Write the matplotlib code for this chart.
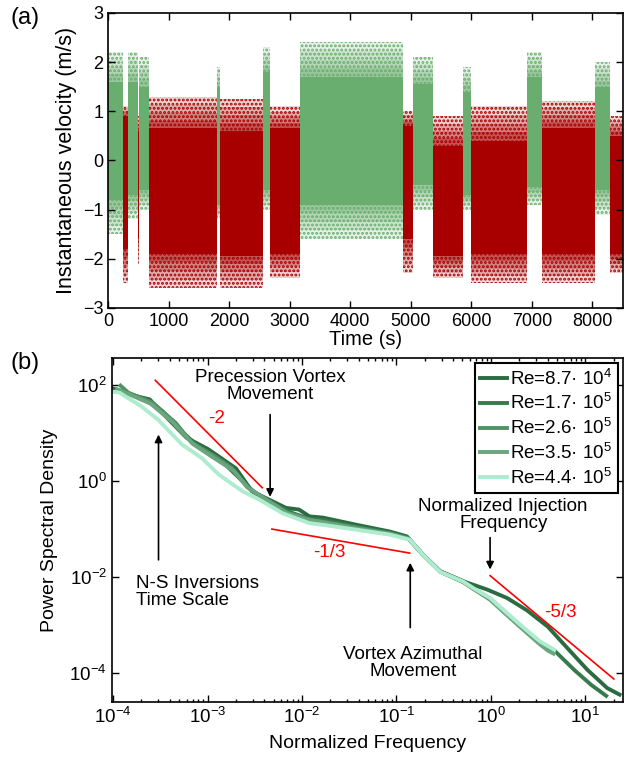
import matplotlib
matplotlib.use('Agg')
import matplotlib.pyplot as plt
import numpy as np
from matplotlib.ticker import FixedLocator, LogLocator, NullLocator, LogFormatterMathtext

plt.rcParams['font.family'] = ['Liberation Sans', 'DejaVu Sans']
plt.rcParams['mathtext.fontset'] = 'custom'
plt.rcParams['mathtext.rm'] = 'Liberation Sans'
plt.rcParams['mathtext.it'] = 'Liberation Sans:italic'
plt.rcParams['mathtext.bf'] = 'Liberation Sans:bold'
plt.rcParams['hatch.linewidth'] = 1.4

# ---- panel (a): flow states, N (green) / S (red) ----
seg_start = [0, 250, 330, 500, 515, 680, 1805, 1850, 2560, 2670,
             3170, 4870, 5040, 5370, 5860, 6000, 6925, 7170, 8050, 8295]
seg_end = [250, 330, 500, 515, 680, 1805, 1850, 2560, 2670, 3170,
           4870, 5040, 5370, 5860, 6000, 6925, 7170, 8050, 8295, 8550]
seg_state = ['N', 'S'] * 10
dense_lo = [-0.8, -1.8, -0.7, -1.6, -0.6, -1.9, -0.9, -1.95, -0.6, -1.9,
            -0.9, -1.6, -0.5, -1.95, -0.7, -1.9, -0.55, -1.9, -0.6, -1.9]
dense_hi = [1.6, 0.9, 1.6, 0.6, 1.5, 0.65, 1.5, 0.6, 1.8, 0.65,
            1.7, 0.7, 1.55, 0.3, 1.4, 0.4, 1.7, 0.65, 1.5, 0.5]
sparse_lo = [-1.5, -2.5, -1.2, -2.1, -1.0, -2.6, -1.2, -2.6, -1.0, -2.4,
             -1.6, -2.3, -1.0, -2.4, -1.0, -2.5, -0.9, -2.5, -1.1, -2.3]
sparse_hi = [2.2, 1.1, 2.2, 0.9, 2.1, 1.3, 1.9, 1.25, 2.3, 1.1,
             2.4, 1.0, 2.1, 0.9, 1.9, 1.1, 2.2, 1.2, 2.0, 0.9]

# ---- panel (b): power spectra ----
re_labels = ['Re=8.7· 10$^{4}$', 'Re=1.7· 10$^{5}$', 'Re=2.6· 10$^{5}$',
             'Re=3.5· 10$^{5}$', 'Re=4.4· 10$^{5}$']
re_colors = ['#2b6b42', '#367b4c', '#4f9266', '#6aa57e', '#aeecd0']

f_87k = [1.0e-4, 1.51e-4, 2.45e-4, 3.3e-4, 6.0e-4, 1.02e-3, 2.0e-3, 2.95e-3, 4.5e-3,
         6.8e-3, 9.3e-3, 1.2e-2, 1.66e-2, 3.8e-2, 8.5e-2, 0.129, 0.19, 0.29, 0.55,
         0.91, 1.48, 2.4, 4.0, 6.5, 10.5, 17.0, 23.0]
p_87k = [83, 62, 49, 26, 7.8, 4.5, 1.8, 0.60, 0.40,
         0.27, 0.25, 0.18, 0.17, 0.12, 0.087, 0.069, 0.029, 0.013, 7.6e-3,
         5.4e-3, 3.6e-3, 2.0e-3, 9.1e-4, 3.2e-4, 1.15e-4, 4.8e-5, 3.5e-5]

f_170k = [1.1e-4, 1.5e-4, 2.5e-4, 3.4e-4, 5.5e-4, 8.5e-4, 1.4e-3, 2.2e-3, 3.2e-3,
          5.0e-3, 8.0e-3, 1.2e-2, 1.7e-2, 3.8e-2, 8.5e-2, 0.13, 0.19, 0.29, 0.52,
          0.65, 0.98, 1.48, 2.24, 3.3, 4.7, 7.6, 11.5, 16.6]
p_170k = [78, 64, 45, 27, 10, 4.6, 2.6, 1.1, 0.55,
          0.33, 0.21, 0.16, 0.15, 0.11, 0.082, 0.066, 0.029, 0.0128, 7.6e-3,
          5.6e-3, 3.5e-3, 1.7e-3, 8.2e-4, 4.3e-4, 2.9e-4, 1.15e-4, 5.6e-5, 3.3e-5]

f_260k = [1.2e-4, 1.45e-4, 2.6e-4, 4.6e-4, 6.8e-4, 1.12e-3, 1.8e-3, 2.6e-3, 4.2e-3,
          6.8e-3, 1.2e-2, 1.66e-2, 3.8e-2, 8.5e-2, 0.135, 0.19, 0.29, 0.51, 0.65,
          0.98, 1.48, 2.24, 3.3, 4.3]
p_260k = [95, 68, 42, 16, 6.2, 3.5, 1.86, 0.75, 0.40,
          0.22, 0.155, 0.14, 0.105, 0.08, 0.062, 0.029, 0.0128, 7.8e-3, 5.7e-3,
          3.4e-3, 1.62e-3, 7.9e-4, 4.1e-4, 2.8e-4]

f_350k = [1.1e-4, 1.5e-4, 2.5e-4, 4.2e-4, 7.0e-4, 1.1e-3, 1.9e-3, 2.7e-3, 4.4e-3,
          7.0e-3, 1.2e-2, 1.7e-2, 3.8e-2, 8.5e-2, 0.135, 0.19, 0.29, 0.51, 0.65,
          0.98, 1.48, 2.24, 3.3, 4.0, 4.6]
p_350k = [80, 62, 40, 17, 5.8, 3.2, 1.6, 0.70, 0.38,
          0.21, 0.15, 0.135, 0.1, 0.078, 0.061, 0.029, 0.0127, 7.7e-3, 5.6e-3,
          3.3e-3, 1.58e-3, 7.6e-4, 3.9e-4, 2.9e-4, 2.5e-4]

f_440k = [1.0e-4, 1.17e-4, 2.0e-4, 3.0e-4, 5.4e-4, 8.7e-4, 1.32e-3, 2.35e-3, 3.55e-3,
          6.2e-3, 1.2e-2, 1.66e-2, 3.8e-2, 8.5e-2, 0.138, 0.19, 0.29, 0.51, 0.65,
          0.98, 1.48, 2.24, 3.3, 4.7]
p_440k = [71, 68, 35, 18.6, 5.6, 2.95, 1.33, 0.60, 0.40,
          0.21, 0.13, 0.12, 0.095, 0.075, 0.059, 0.029, 0.0126, 7.9e-3, 5.8e-3,
          3.6e-3, 1.74e-3, 8.5e-4, 4.5e-4, 3.0e-4]

spectra_f = [f_87k, f_170k, f_260k, f_350k, f_440k]
spectra_p = [p_87k, p_170k, p_260k, p_350k, p_440k]

# slope guides: (f0, f1), (p0, p1), label, label position
slope_f = [(2.8e-4, 3.8e-3), (4.8e-3, 0.138), (0.98, 20.0)]
slope_p = [(123, 0.71), (0.098, 0.031), (0.0105, 7.4e-5)]
slope_txt = ['-2', '-1/3', '-5/3']
slope_txt_pos = [(1.26e-3, 20), (1.95e-2, 0.032), (5.5, 1.8e-3)]

GREEN = '#6aae6f'
RED = '#a80000'

fig = plt.figure(figsize=(6.28, 7.64), dpi=100)
ax1 = fig.add_axes([0.172, 0.597, 0.8195, 0.386])
ax2 = fig.add_axes([0.178, 0.0812, 0.814, 0.450])

# Panel (a): cloud drawn as nested bands fading from the dense core
# out to the sparse extremes, plus a dotted layer for the scattered points
fade = [(1.0, 0.16), (0.75, 0.2), (0.5, 0.25), (0.25, 0.35)]
for t0, t1, st, dlo, dhi, slo, shi in zip(seg_start, seg_end, seg_state,
                                           dense_lo, dense_hi, sparse_lo, sparse_hi):
    c = GREEN if st == 'N' else RED
    w = t1 - t0
    ax1.bar(t0, shi - slo, width=w, bottom=slo, align='edge',
            facecolor='none', edgecolor=c, hatch='....', linewidth=0)
    for frac, a in fade:
        lo = dlo + (slo - dlo) * frac
        hi = dhi + (shi - dhi) * frac
        ax1.bar(t0, hi - lo, width=w, bottom=lo, align='edge',
                color=c, alpha=a, linewidth=0)
    ax1.bar(t0, dhi - dlo, width=w, bottom=dlo, align='edge',
            color=c, linewidth=0)

ax1.set_xlim(0, 8500)
ax1.set_ylim(-3, 3)
ax1.set_xticks(range(0, 8001, 1000))
ax1.set_yticks(range(-3, 4))
ax1.set_xlabel('Time (s)', fontsize=14.5, labelpad=0)
ax1.set_ylabel('Instantaneous velocity (m/s)', fontsize=15.5, labelpad=4)

# Panel (b)
for fv, pv, lab, col in zip(spectra_f, spectra_p, re_labels, re_colors):
    ax2.plot(fv, pv, color=col, lw=2.8, label=lab, solid_joinstyle='round')

for (fa, fb), (pa, pb) in zip(slope_f, slope_p):
    ax2.plot([fa, fb], [pa, pb], color='red', lw=1.2)
for txt, (tx, ty) in zip(slope_txt, slope_txt_pos):
    ax2.text(tx, ty, txt, color='red', fontsize=13.5, ha='center', va='center')

arrow = dict(arrowstyle='-|>', color='black', lw=1.2, mutation_scale=11,
             shrinkA=0, shrinkB=0)
ax2.text(4.6e-3, 95, 'Precession Vortex\nMovement', fontsize=13.5,
         ha='center', va='center', linespacing=1.0)
ax2.annotate('', xy=(4.6e-3, 0.46), xytext=(4.6e-3, 23.7), arrowprops=arrow)
ax2.text(1.77e-4, 4.9e-3, 'N-S Inversions\nTime Scale', fontsize=13.5,
         ha='left', va='center', linespacing=1.0)
ax2.annotate('', xy=(3.03e-4, 9.1), xytext=(3.03e-4, 0.0224), arrowprops=arrow)
ax2.text(0.149, 1.62e-4, 'Vortex Azimuthal\nMovement', fontsize=13.5,
         ha='center', va='center', linespacing=1.0)
ax2.annotate('', xy=(0.14, 0.0195), xytext=(0.14, 8.7e-4), arrowprops=arrow)
ax2.text(1.35, 0.195, 'Normalized Injection\nFrequency', fontsize=13.5,
         ha='center', va='center', linespacing=1.0)
ax2.annotate('', xy=(0.98, 0.0141), xytext=(0.98, 0.065), arrowprops=arrow)

ax2.set_xscale('log')
ax2.set_yscale('log')
ax2.set_xlim(9.7e-5, 25)
ax2.set_ylim(2.46e-5, 355)
ax2.yaxis.set_major_locator(FixedLocator([1e-4, 1e-2, 1e0, 1e2]))
ax2.yaxis.set_minor_locator(NullLocator())
ax2.yaxis.set_major_formatter(LogFormatterMathtext())
ax2.xaxis.set_major_locator(LogLocator(base=10, numticks=12))
ax2.xaxis.set_minor_locator(LogLocator(base=10, subs=np.arange(2, 10), numticks=12))
ax2.set_xlabel('Normalized Frequency', fontsize=14, labelpad=6)
ax2.set_ylabel('Power Spectral Density', fontsize=14, labelpad=8)

leg = ax2.legend(loc='upper right', fontsize=13.5, handlelength=1.4, handletextpad=0.2,
                 labelspacing=0.25, borderpad=0.3, borderaxespad=0.25, fancybox=False,
                 framealpha=1)
leg.get_frame().set_edgecolor('black')
leg.get_frame().set_linewidth(1.5)

for ax, ls in ((ax1, 13), (ax2, 13.5)):
    ax.tick_params(which='both', direction='in', top=True, right=True,
                   labelsize=ls, width=1.0)
    ax.tick_params(which='major', length=5)
    ax.tick_params(which='minor', length=2.5)
    for sp in ax.spines.values():
        sp.set_linewidth(1.2)

fig.text(0.016, 0.976, '(a)', fontsize=17, va='center', ha='left')
fig.text(0.016, 0.525, '(b)', fontsize=17, va='center', ha='left')

fig.savefig('out.png', dpi=100)
